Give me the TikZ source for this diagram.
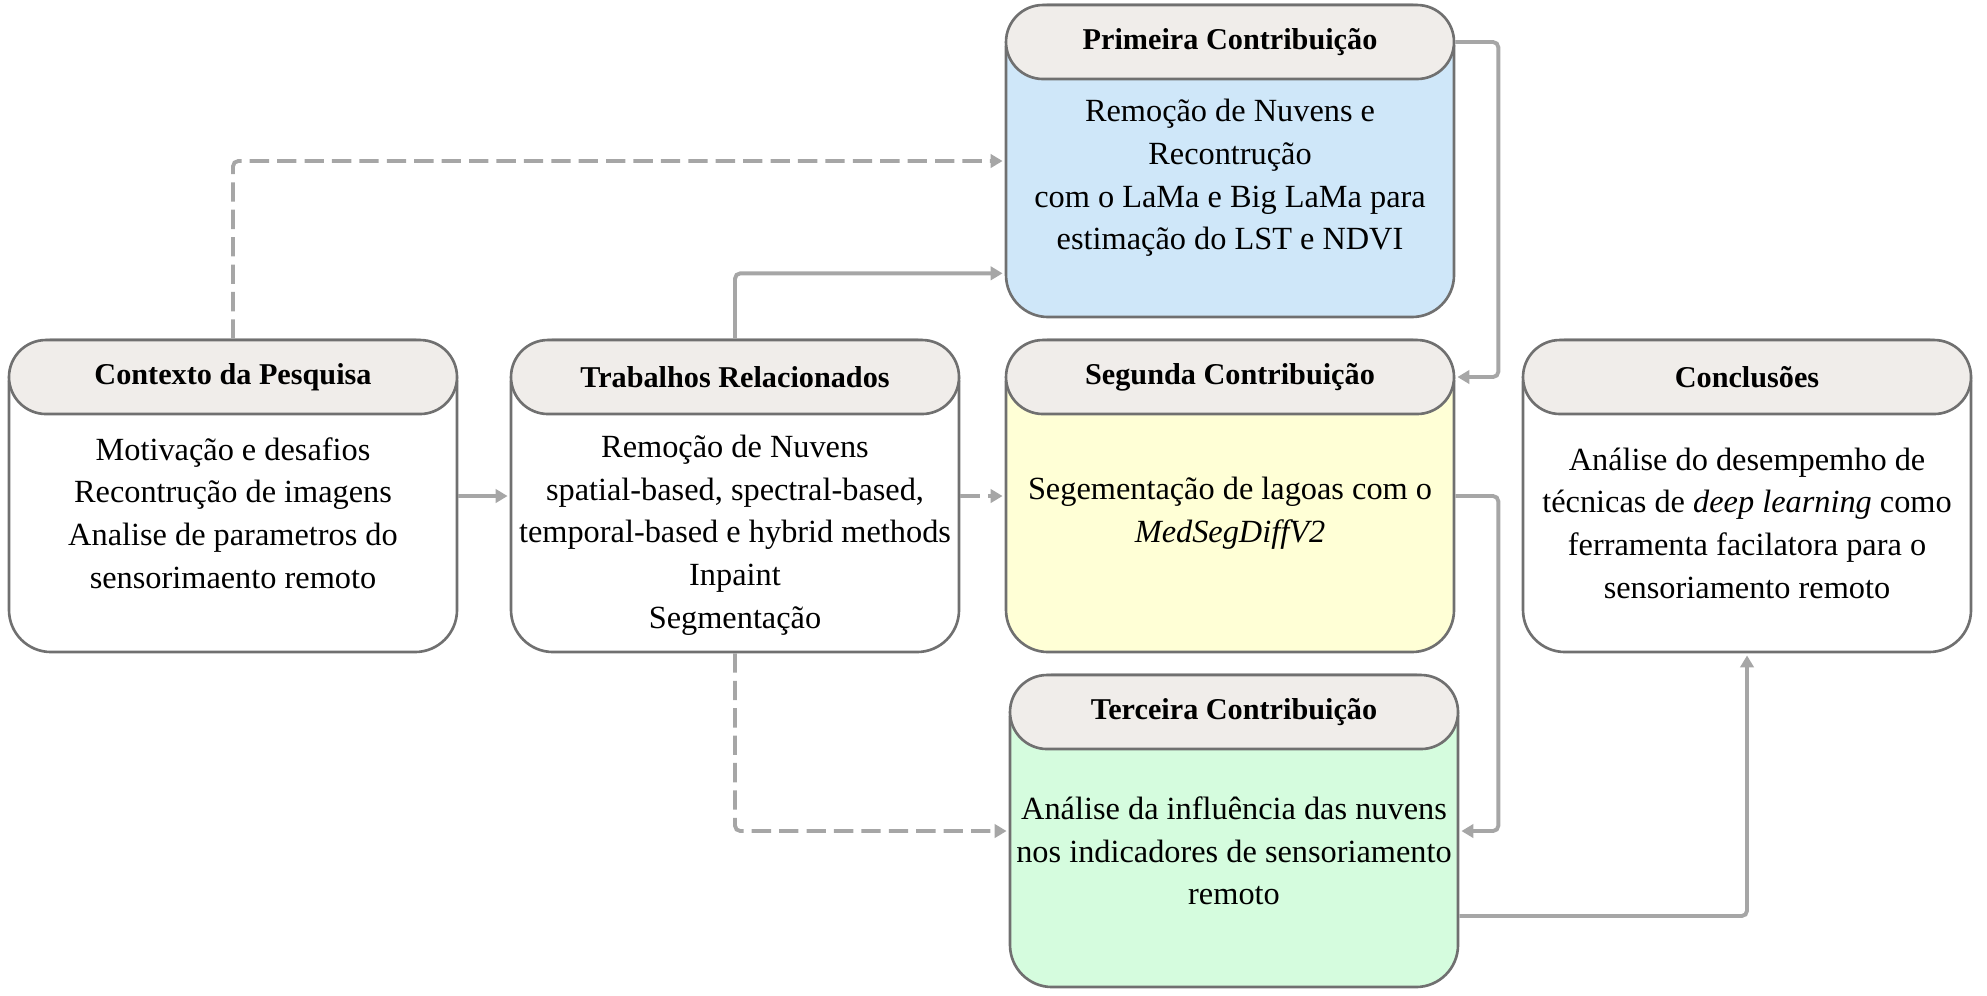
\documentclass[tikz,border=0pt]{standalone}
\usepackage{fontspec}
\setmainfont{Liberation Serif}
\usepackage{tikz}
\usetikzlibrary{shapes,arrows.meta}
\definecolor{headgray}{HTML}{F0EDEA}
\definecolor{framegray}{HTML}{707070}
\definecolor{linegray}{HTML}{A6A6A6}
\definecolor{contribblue}{HTML}{CFE7F9}
\definecolor{contribyellow}{HTML}{FFFFD6}
\definecolor{contribgreen}{HTML}{D5FCDE}
\tikzstyle{frame} = [rectangle, draw=framegray, line width=0.75pt, fill=white,
minimum width=4.48cm, minimum height=3.12cm, rounded corners=0.42cm, inner sep=0pt]
\tikzstyle{head} = [rectangle, draw=framegray, line width=0.75pt, fill=headgray,
minimum width=4.48cm, minimum height=0.74cm, rounded corners=0.37cm, anchor=north,
font=\fontsize{8.6}{10}\selectfont\bfseries]
\tikzstyle{body} = [align=center, font=\fontsize{9.2}{12.15}\selectfont]
\tikzstyle{line} = [draw=linegray, line width=1.1pt, rounded corners=1.5pt,
-{Triangle[length=3.4pt,width=3.8pt]}, shorten >=0.6pt]
\tikzstyle{dline} = [line, dash pattern=on 5.5pt off 2.3pt]
\begin{document}
\begin{tikzpicture}[node distance=5cm, auto]
    \useasboundingbox (0,0) rectangle (19.87,-9.95);
    % Place nodes
    \node [frame] (ctx) at (2.33,-4.96) {};
    \node [frame, right of=ctx, node distance=5.02cm] (trab) {};
    \node [frame, fill=contribyellow, right of=trab, node distance=4.95cm] (seg) {};
    \node [frame, right of=seg, node distance=5.17cm] (concl) {};
    \node [frame, fill=contribblue, above of=seg, node distance=3.35cm] (prim) {};
    \node [frame, fill=contribgreen, below of=seg, node distance=3.35cm, xshift=0.04cm] (terc) {};

    \node [head] (ctxh) at (ctx.north) {Contexto da Pesquisa};
    \node [head] (trabh) at (trab.north) {Trabalhos Relacionados};
    \node [head] (primh) at (prim.north) {Primeira Contribuição};
    \node [head] (segh) at (seg.north) {Segunda Contribuição};
    \node [head] (terch) at (terc.north) {Terceira Contribuição};
    \node [head] (conclh) at (concl.north) {Conclusões};

    \node [body] (ctxt) at ([yshift=-0.17cm]ctx.center) {Motivação e desafios\\
    Recontrução de imagens\\ Analise de parametros do\\ sensorimaento remoto};
    \node [body] (trabt) at ([yshift=-0.39cm]trab.center) {Remoção de Nuvens\\
    spatial-based, spectral-based,\\ temporal-based e hybrid methods\\ Inpaint\\
    Segmentação};
    \node [body] (primt) at ([yshift=-0.17cm]prim.center) {Remoção de Nuvens e\\
    Recontrução\\ com o LaMa e Big LaMa para\\ estimação do LST e NDVI};
    \node [body] (segt) at ([yshift=-0.17cm]seg.center) {Segementação de lagoas com o\\
    \textit{MedSegDiffV2}};
    \node [body] (terct) at ([yshift=-0.2cm]terc.center) {Análise da influência das nuvens\\
    nos indicadores de sensoriamento\\ remoto};
    \node [body] (conclt) at ([yshift=-0.27cm]concl.center) {Análise do desempemho de\\
    técnicas de \textit{deep learning} como\\ ferramenta facilatora para o\\
    sensoriamento remoto};

    % Draw edges
    \path [line] (ctx) -- (trab);
    \path [dline] (ctx.north) |- (prim);
    \path [line] (trab.north) |- ([yshift=0.45cm]prim.south west);
    \path [dline] (trab) -- (seg);
    \path [dline] (trab.south) |- (terc);
    \path [line] (primh.east) -- ++(0.43,0) |- (segh.east);
    \path [line] (seg.east) -- ++(0.43,0) |- (terc.east);
    \path [line] ([yshift=-0.85cm]terc.east) -| (concl);
\end{tikzpicture}
\end{document}
